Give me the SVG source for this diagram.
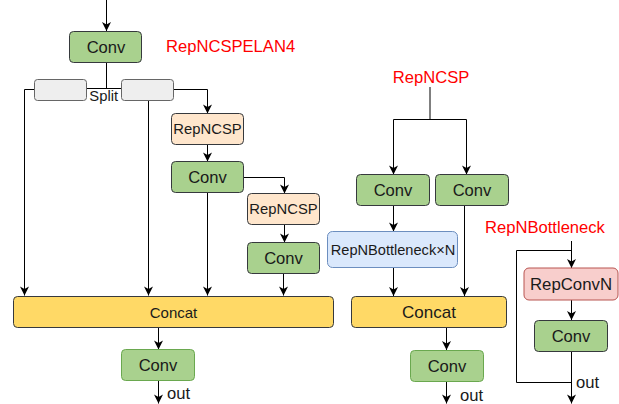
<svg xmlns="http://www.w3.org/2000/svg" width="619" height="404" viewBox="0 0 619 404">
  <defs>
    <marker id="arrow" markerUnits="userSpaceOnUse" markerWidth="12" markerHeight="12" viewBox="-10 -6 12 12" refX="0" refY="0" orient="auto">
      <path d="M-9,-4.5 L0,0 L-9,4.5 L-6.5,0 Z" fill="#000"/>
    </marker>
    <style>
      text { font-family: "Liberation Sans", Arial, sans-serif; fill: #1a1a1a; }
      .lbl { text-anchor: middle; dominant-baseline: central; }
      .title { fill: #ff0000; font-size: 16.6px; }
      .edge { fill: none; stroke: #000; stroke-width: 1; }
      .arr { marker-end: url(#arrow); }
      .conv { fill: #a9d18e; stroke: #36393d; stroke-width: 1; }
      .conv-g { fill: #a9d18e; stroke: #6aa84f; stroke-width: 1; }
      .csp { fill: #ffe6cc; stroke: #36393d; stroke-width: 1; }
      .split { fill: #eeeeee; stroke: #666666; stroke-width: 1; }
      .cat { fill: #ffd966; stroke: #36393d; stroke-width: 1; }
      .bneck { fill: #dae8fc; stroke: #6c8ebf; stroke-width: 1; }
      .rep { fill: #f8cecc; stroke: #b85450; stroke-width: 1; }
    </style>
  </defs>

  <!-- section titles -->
  <text class="title" x="166" y="52">RepNCSPELAN4</text>
  <text class="title" x="431" y="83" text-anchor="middle">RepNCSP</text>
  <text class="title" x="485" y="233" font-size="16px">RepNBottleneck</text>

  <!-- connectors -->
  <g id="connectors">
    <!-- RepNCSPELAN4 -->
    <path class="edge arr" d="M106.5,0 V31"/>
    <path class="edge" d="M106.5,62 V88.5"/>
    <path class="edge" d="M86.5,88.5 H121.5"/>
    <path class="edge arr" d="M34.5,89.5 H24.5 V295.5"/>
    <path class="edge arr" d="M148.5,100.5 V295.5"/>
    <path class="edge arr" d="M173.5,89.5 H207.5 V113.5"/>
    <path class="edge arr" d="M207.5,144.5 V161.5"/>
    <path class="edge arr" d="M207.5,192.5 V295.5"/>
    <path class="edge arr" d="M243.5,177.5 H284.5 V193.5"/>
    <path class="edge arr" d="M284.5,224.5 V242.5"/>
    <path class="edge arr" d="M283.5,273.5 V295.5"/>
    <path class="edge arr" d="M158.5,327.5 V349.5"/>
    <path class="edge arr" d="M158.5,380.5 V403.5"/>
    <!-- RepNCSP -->
    <path class="edge" d="M430,87 V119.5" stroke-width="2"/>
    <path class="edge" d="M393.5,119.5 H466.5"/>
    <path class="edge arr" d="M393.5,119.5 V174.5"/>
    <path class="edge arr" d="M466.5,119.5 V174.5"/>
    <path class="edge arr" d="M393.5,205.5 V231.5"/>
    <path class="edge arr" d="M393.5,267.5 V296"/>
    <path class="edge arr" d="M464.5,205.5 V296"/>
    <path class="edge arr" d="M446.5,327.5 V350"/>
    <path class="edge arr" d="M446.5,381.5 V403.5"/>
    <!-- RepNBottleneck -->
    <path class="edge arr" d="M571.5,241 V268"/>
    <path class="edge" d="M571.5,250.5 H516.5 V382.5 H571.5"/>
    <path class="edge arr" d="M571.5,300 V320"/>
    <path class="edge arr" d="M571.5,351.5 V403.5"/>
  </g>

  <!-- RepNCSPELAN4 nodes -->
  <g id="conv-in">
    <rect class="conv" x="69.5" y="31.5" width="72" height="31" rx="4"/>
    <text class="lbl" x="106" y="47" font-size="16.6">Conv</text>
  </g>
  <g id="split">
    <rect class="split" x="34.5" y="79.5" width="52" height="21" rx="3"/>
    <rect class="split" x="121.5" y="79.5" width="52" height="21" rx="3"/>
    <text x="103.7" y="101" font-size="14.8" text-anchor="middle">Split</text>
  </g>
  <g id="repncsp-1">
    <rect class="csp" x="171.5" y="113.5" width="72" height="31" rx="4"/>
    <text class="lbl" x="207.5" y="129" font-size="14.8">RepNCSP</text>
  </g>
  <g id="conv-1">
    <rect class="conv" x="171.5" y="161.5" width="72" height="31" rx="4"/>
    <text class="lbl" x="207.5" y="177" font-size="16.6">Conv</text>
  </g>
  <g id="repncsp-2">
    <rect class="csp" x="247.5" y="193.5" width="72" height="31" rx="4"/>
    <text class="lbl" x="283.5" y="209" font-size="14.8">RepNCSP</text>
  </g>
  <g id="conv-2">
    <rect class="conv" x="247.5" y="242.5" width="72" height="31" rx="4"/>
    <text class="lbl" x="283.5" y="258" font-size="16.6">Conv</text>
  </g>
  <g id="concat-elan">
    <rect class="cat" x="13.5" y="296.5" width="320" height="31" rx="4"/>
    <text class="lbl" x="173.5" y="312" font-size="15">Concat</text>
  </g>
  <g id="conv-elan-out">
    <rect class="conv-g" x="121.5" y="349.5" width="73" height="31" rx="4"/>
    <text class="lbl" x="158" y="365" font-size="16.6">Conv</text>
    <text x="167" y="399" font-size="16.6">out</text>
  </g>

  <!-- RepNCSP nodes -->
  <g id="csp-conv-a">
    <rect class="conv" x="356.5" y="174.5" width="73" height="31" rx="4"/>
    <text class="lbl" x="393" y="190" font-size="16.6">Conv</text>
  </g>
  <g id="csp-conv-b">
    <rect class="conv" x="435.5" y="174.5" width="73" height="31" rx="4"/>
    <text class="lbl" x="472" y="190" font-size="16.6">Conv</text>
  </g>
  <g id="bottleneck-n">
    <rect class="bneck" x="327.5" y="231.5" width="130" height="36" rx="5"/>
    <text class="lbl" x="393" y="250" font-size="14.6">RepNBottleneck×N</text>
  </g>
  <g id="concat-csp">
    <rect class="cat" x="351.5" y="296.5" width="155" height="31" rx="4"/>
    <text class="lbl" x="429" y="312" font-size="17">Concat</text>
  </g>
  <g id="conv-csp-out">
    <rect class="conv-g" x="410.5" y="350.5" width="73" height="31" rx="4"/>
    <text class="lbl" x="447" y="366" font-size="16.6">Conv</text>
    <text x="460" y="401" font-size="16.6">out</text>
  </g>

  <!-- RepNBottleneck nodes -->
  <g id="repconvn">
    <rect class="rep" x="524" y="268" width="94" height="32" rx="5"/>
    <text class="lbl" x="571" y="284" font-size="16.8">RepConvN</text>
  </g>
  <g id="bneck-conv">
    <rect class="conv" x="534.5" y="320.5" width="73" height="31" rx="4"/>
    <text class="lbl" x="571" y="336" font-size="16.6">Conv</text>
    <text x="576" y="388" font-size="16.6">out</text>
  </g>
</svg>
